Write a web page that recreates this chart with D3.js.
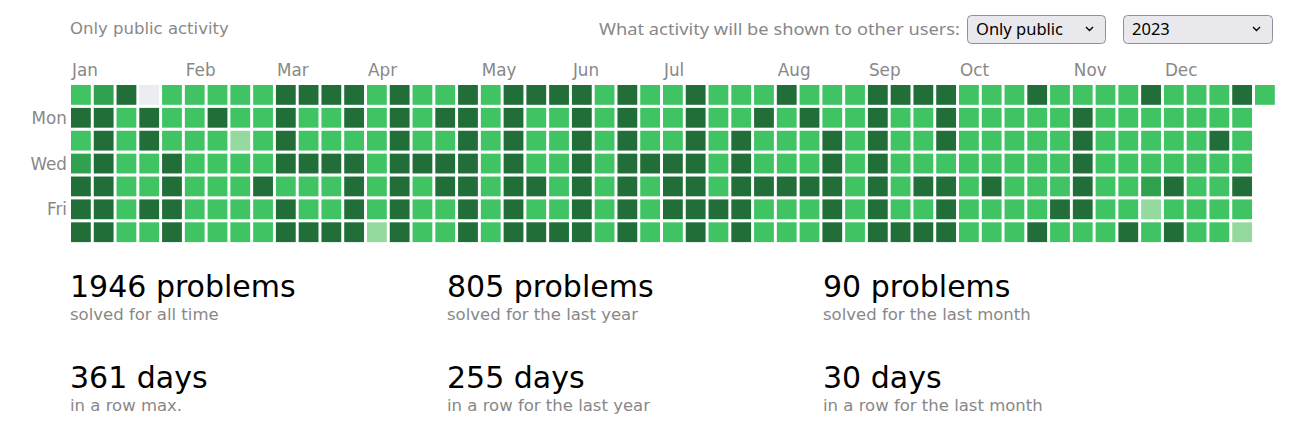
<!DOCTYPE html>
<html>
<head>
<meta charset="utf-8">
<script src="https://cdn.jsdelivr.net/npm/d3@7"></script>
<style>
  html, body { margin: 0; padding: 0; background: #fff; }
  svg { display: block; }
</style>
</head>
<body>
<svg id="chart" width="1305" height="432"></svg>
<script>
// ---------- data ----------
const year = 2023;
// activity level per day, one array per week column (Sun..Sat); 0 none, 1 light, 2 medium, 3 medium-dark, 4 dark
const weeks = [
  [2,4,2,3,4,4,4],[3,4,4,4,4,4,4],[4,2,2,2,2,2,2],[0,4,4,2,2,4,2],[2,2,2,4,4,4,4],
  [2,2,2,2,2,2,2],[2,4,2,2,2,2,2],[2,2,1,2,2,2,2],[2,2,2,2,4,2,2],[4,4,4,4,2,4,4],
  [4,2,2,4,2,2,4],[4,2,2,4,2,2,4],[4,4,2,4,4,4,4],[2,2,2,2,2,2,1],[4,4,4,4,4,4,4],
  [2,2,2,4,2,2,2],[2,4,2,4,4,2,2],[4,4,4,4,4,4,4],[2,2,2,2,2,2,2],[4,4,4,4,4,4,4],
  [4,2,2,2,4,2,4],[4,2,2,2,2,2,4],[4,4,4,4,4,4,4],[2,2,2,2,2,2,2],[4,4,4,4,4,4,4],
  [2,2,2,4,2,2,2],[2,2,2,4,4,4,2],[4,4,4,4,4,4,4],[2,2,2,2,2,4,2],[2,2,4,4,4,4,4],
  [2,4,2,2,4,2,2],[4,2,2,2,4,2,2],[2,4,2,2,4,2,2],[2,2,4,4,4,4,4],[2,2,2,2,2,2,2],
  [4,4,4,4,4,4,4],[4,2,2,2,2,2,4],[4,2,2,2,4,2,4],[4,4,4,2,4,4,4],[2,2,2,2,2,2,2],
  [2,2,2,2,4,2,2],[2,2,2,2,2,2,2],[4,2,2,2,2,2,4],[2,2,2,2,2,4,2],[2,4,4,4,4,4,2],
  [2,2,2,2,2,2,2],[2,2,2,2,2,2,4],[4,2,2,2,3,1,2],[2,2,2,2,4,2,4],[2,2,2,2,2,2,2],
  [2,2,4,2,2,2,2],[4,2,2,2,4,2,1],[2]
];
const monthNames = ["Jan","Feb","Mar","Apr","May","Jun","Jul","Aug","Sep","Oct","Nov","Dec"];
const dayNames = ["", "Mon", "", "Wed", "", "Fri", ""];
const levelColors = ["#ebedf0", "#94da9e", "#40c463", "#30a14e", "#216e39"];
const statNumbers = [1946, 805, 90, 361, 255, 30];
const statUnits = ["problems", "problems", "problems", "days", "days", "days"];
const statCaptions = ["solved for all time", "solved for the last year", "solved for the last month",
                      "in a row max.", "in a row for the last year", "in a row for the last month"];
const headerLeft = "Only public activity";
const headerQuestion = "What activity will be shown to other users:";
const selectOptions = ["Only public", "2023"];

// ---------- layout ----------
const svg = d3.select("#chart");
const font = "'DejaVu Sans', Verdana, sans-serif";
const gray = "#888888";

const start = new Date(year, 0, 1);
const days = [];
weeks.forEach((w, wi) => w.forEach((lvl, di) => {
  const date = d3.timeDay.offset(start, wi * 7 + di - start.getDay());
  days.push({ week: wi, day: di, level: lvl, date });
}));

const x = d3.scaleLinear().domain([0, 52]).range([71, 1255]);
const y = d3.scaleLinear().domain([0, 6]).range([85, 222.3]);
const cell = 19.8;

svg.append("g").selectAll("rect").data(days).join("rect")
  .attr("x", d => x(d.week))
  .attr("y", d => y(d.day))
  .attr("width", cell)
  .attr("height", cell)
  .attr("fill", d => levelColors[d.level]);

// month labels: at first week whose Sunday falls in the month
const monthStarts = d3.range(12).map(m => {
  const first = new Date(year, m, 1);
  const firstSunday = d3.timeSunday.ceil(first);
  const wi = m === 0 ? 0 : d3.timeSunday.count(d3.timeSunday.floor(start), firstSunday);
  return { name: monthNames[m], week: wi };
});
svg.append("g").selectAll("text").data(monthStarts).join("text")
  .attr("x", d => x(d.week) + 1)
  .attr("y", 76)
  .attr("font-family", font).attr("font-size", 16.8).attr("fill", gray)
  .text(d => d.name);

svg.append("g").selectAll("text").data(dayNames.map((n, i) => ({ n, i })).filter(d => d.n)).join("text")
  .attr("x", 67)
  .attr("y", d => y(d.i) + cell / 2 + 6)
  .attr("text-anchor", "end")
  .attr("font-family", font).attr("font-size", 16.8).attr("fill", gray)
  .text(d => d.n);

// header
svg.append("text").attr("x", 70).attr("y", 34)
  .attr("font-family", font).attr("font-size", 16.5).attr("fill", gray).text(headerLeft);
svg.append("text").attr("x", 599).attr("y", 35)
  .attr("textLength", 361).attr("lengthAdjust", "spacingAndGlyphs")
  .attr("font-family", "'Noto Sans', sans-serif").attr("font-size", 17).attr("fill", gray).text(headerQuestion);

const boxes = [{ x0: 967, x1: 1106, label: selectOptions[0] }, { x0: 1123, x1: 1273, label: selectOptions[1] }];
const bg = svg.append("g").selectAll("g").data(boxes).join("g");
bg.append("rect")
  .attr("x", d => d.x0 + 0.5).attr("y", 15.5)
  .attr("width", d => d.x1 - d.x0 - 1).attr("height", 28)
  .attr("rx", 4).attr("fill", "#e9e9ed").attr("stroke", "#8f8f9d");
bg.append("text")
  .attr("x", d => d.x0 + 9).attr("y", 35)
  .attr("font-family", "'Noto Sans', sans-serif").attr("font-size", 16.5).attr("fill", "#000")
  .text(d => d.label);
bg.append("path")
  .attr("d", d => `M${d.x1 - 20},27 l3.5,3.5 l3.5,-3.5`)
  .attr("fill", "none").attr("stroke", "#000").attr("stroke-width", 1.4);

// stats
const stats = statNumbers.map((n, i) => ({ n, unit: statUnits[i], caption: statCaptions[i], col: i % 3, row: Math.floor(i / 3) }));
const colX = [70, 447, 823];
const sg = svg.append("g").selectAll("g").data(stats).join("g");
sg.append("text")
  .attr("x", d => colX[d.col]).attr("y", d => 297 + d.row * 91)
  .attr("font-family", font).attr("font-size", 30).attr("fill", "#000")
  .text(d => `${d.n} ${d.unit}`);
sg.append("text")
  .attr("x", d => colX[d.col]).attr("y", d => 320 + d.row * 91)
  .attr("font-family", font).attr("font-size", 16.5).attr("fill", gray)
  .text(d => d.caption);
</script>
</body>
</html>
